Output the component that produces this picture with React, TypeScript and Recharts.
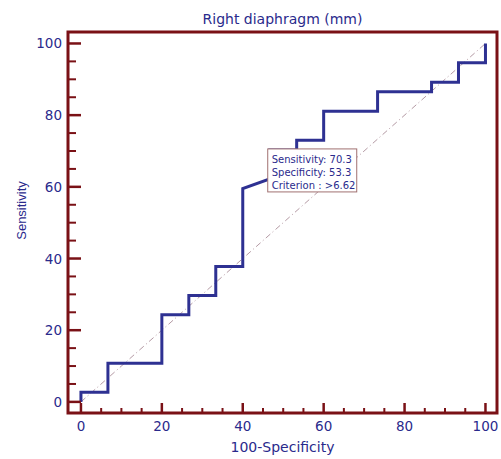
import React from "react";
import {
  LineChart, Line, XAxis, YAxis, ReferenceDot, ReferenceArea, Label,
} from "recharts";

// ROC steps: 100-Specificity (x) vs Sensitivity (y)
const fpr = [0, 0, 6.67, 6.67, 20, 20, 26.67, 26.67, 33.33, 33.33, 40, 40, 46.67, 46.67, 53.33, 53.33, 60, 60, 73.33, 73.33, 86.67, 86.67, 93.33, 93.33, 100, 100];
const tpr = [0, 2.7, 2.7, 10.8, 10.8, 24.3, 24.3, 29.7, 29.7, 37.8, 37.8, 59.5, 62.2, 70.3, 70.3, 73.0, 73.0, 81.1, 81.1, 86.5, 86.5, 89.2, 89.2, 94.6, 94.6, 100];

const diagX = [0, 100];
const diagY = [0, 100];

const xTicks = [0, 5, 10, 15, 20, 25, 30, 35, 40, 45, 50, 55, 60, 65, 70, 75, 80, 85, 90, 95, 100];
const yTicks = [0, 5, 10, 15, 20, 25, 30, 35, 40, 45, 50, 55, 60, 65, 70, 75, 80, 85, 90, 95, 100];

const xDomain = [-3.2, 102.85];
const yDomain = [-3.1, 103.2];

const cutoff = { x: 46.67, y: 70.3 };
const cutoffLines = ["Sensitivity: 70.3", "Specificity: 53.3", "Criterion : >6.62"];

const FRAME = "#7a1116";
const NAVY = "#2a2a8c";
const CURVE = "#2e3192";
const FONT = "DejaVu Sans";

// plot frame edges in px (margin + axis sizes)
const PLOT_LEFT = 68;
const PLOT_BOTTOM = 413;

const rocData = fpr.map((x, i) => ({ x, y: tpr[i] }));
const diagData = diagX.map((x, i) => ({ x, y: diagY[i] }));

const XTick = (props: any) => {
  const { x, payload } = props;
  const major = payload.value % 20 === 0;
  return (
    <g>
      <path d={`M${x},${PLOT_BOTTOM}V${PLOT_BOTTOM - (major ? 10 : 5)}`} stroke={FRAME} strokeWidth={major ? 2.5 : 2} fill="none" />
      {major && (
        <text x={x} y={PLOT_BOTTOM + 18} textAnchor="middle" fill={NAVY} fontSize={13.5} fontFamily={FONT}>
          {payload.value}
        </text>
      )}
    </g>
  );
};

const YTick = (props: any) => {
  const { y, payload } = props;
  const major = payload.value % 20 === 0;
  return (
    <g>
      <path d={`M${PLOT_LEFT},${y}H${PLOT_LEFT + (major ? 13 : 8)}`} stroke={FRAME} strokeWidth={major ? 2.5 : 2} fill="none" />
      {major && (
        <text x={PLOT_LEFT - 6} y={y + 5} textAnchor="end" fill={NAVY} fontSize={13.5} fontFamily={FONT}>
          {payload.value}
        </text>
      )}
    </g>
  );
};

const CutoffBox = (props: any) => {
  const { cx, cy } = props;
  return (
    <g>
      <rect x={cx - 2} y={cy - 1} width={89} height={43} fill="#fff" stroke="#a07070" strokeWidth={1} />
      {cutoffLines.map((t, i) => (
        <text key={i} x={cx + 2} y={cy + 13 + i * 13} fill={NAVY} fontSize={10} fontFamily={FONT}>
          {t}
        </text>
      ))}
    </g>
  );
};

export default function App() {
  return (
    <div style={{ position: "absolute", left: 0, top: 0, background: "#fff" }}>
      <LineChart width={501} height={459} margin={{ top: 32, right: 4, left: 0, bottom: 0 }}>
        <XAxis
          dataKey="x"
          type="number"
          domain={xDomain}
          allowDataOverflow
          ticks={xTicks}
          interval={0}
          tickLine={false}
          tick={<XTick />}
          height={46}
          axisLine={false}
        >
          <Label
            content={(p: any) => (
              <text x={p.viewBox.x + p.viewBox.width / 2} y={p.viewBox.y + 39} textAnchor="middle" fill={NAVY} fontSize={14} fontFamily={FONT}>
                100-Specificity
              </text>
            )}
          />
        </XAxis>
        <YAxis
          dataKey="y"
          type="number"
          domain={yDomain}
          allowDataOverflow
          ticks={yTicks}
          interval={0}
          tickLine={false}
          tick={<YTick />}
          width={68}
          axisLine={false}
        >
          <Label
            content={(p: any) => {
              const cx = p.viewBox.x + 21;
              const cy = p.viewBox.y + p.viewBox.height / 2 - 12;
              return (
                <text x={cx} y={cy} transform={`rotate(-90 ${cx} ${cy})`} textAnchor="middle" dominantBaseline="central" fill={NAVY} fontSize={13} fontFamily="Liberation Sans">
                  Sensitivity
                </text>
              );
            }}
          />
        </YAxis>
        <Line
          data={diagData}
          dataKey="y"
          type="linear"
          stroke="#b49aa4"
          strokeWidth={1}
          strokeDasharray="6 3 1 3"
          dot={false}
          isAnimationActive={false}
        />
        <Line
          data={rocData}
          dataKey="y"
          type="linear"
          stroke={CURVE}
          strokeWidth={3}
          dot={false}
          isAnimationActive={false}
        />
        <ReferenceArea
          x1={xDomain[0]}
          x2={xDomain[1]}
          y1={yDomain[0]}
          y2={yDomain[1]}
          ifOverflow="visible"
          fill="none"
          fillOpacity={0}
          stroke={FRAME}
          strokeWidth={3}
          label={
            <Label
              content={(p: any) => (
                <text x={p.viewBox.x + p.viewBox.width / 2} y={p.viewBox.y - 8.5} textAnchor="middle" fill={NAVY} fontSize={14} fontFamily={FONT}>
                  Right diaphragm (mm)
                </text>
              )}
            />
          }
        />
        <ReferenceDot x={cutoff.x} y={cutoff.y} r={0} ifOverflow="visible" shape={(p: any) => <CutoffBox {...p} />} />
      </LineChart>
    </div>
  );
}
